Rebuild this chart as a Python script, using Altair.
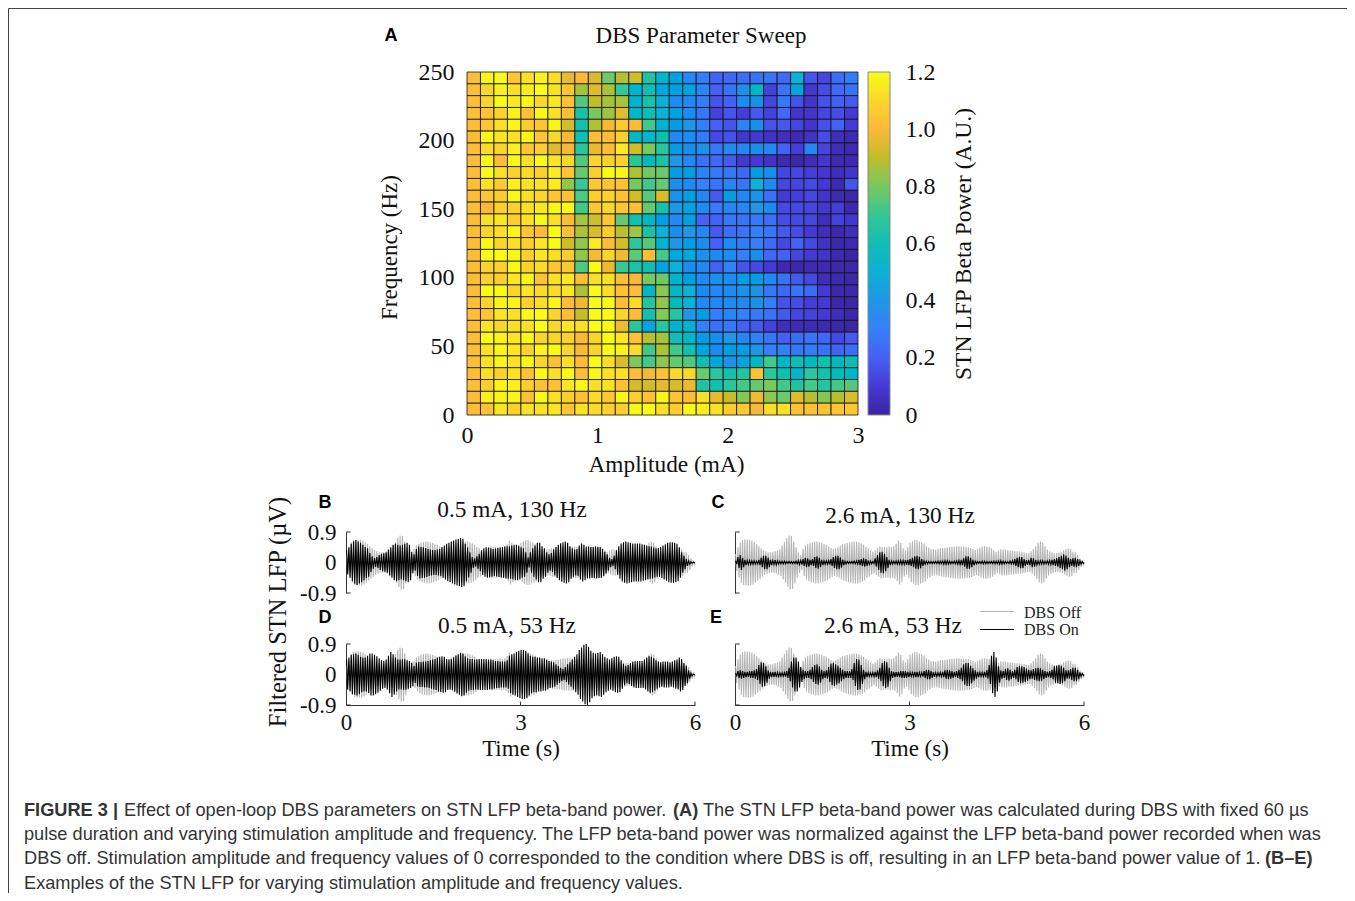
import altair as alt
import pandas as pd

# ---------- Panel A: normalised beta power, top row (250 Hz) first, amplitude 0 to 3 mA ----------
row_01 = [1.02,1.18,1.2,1.04,1.13,1.17,1.12,.96,1.0,.94,.78,.88,.92,.66,.52,.44,.33,.29,.21,.22,.23,.25,.26,.23,.5,.17,.13,.24,.29]
row_02 = [1.02,1.1,1.17,1.12,1.16,1.2,1.13,1.04,.86,.95,.87,.7,.53,.6,.47,.44,.45,.32,.2,.25,.38,.55,.12,.25,.46,.09,.15,.22,.26]
row_03 = [1.02,1.09,1.2,1.15,1.18,1.1,1.15,1.03,.74,.9,.86,.87,.53,.65,.5,.35,.33,.29,.17,.2,.34,.37,.13,.27,.16,.08,.16,.2,.18]
row_04 = [1.02,1.03,1.09,1.17,1.03,1.19,1.12,1.02,.65,.8,.85,.95,.55,.6,.5,.44,.35,.27,.12,.17,.11,.18,.12,.22,.08,.08,.13,.15,.1]
row_05 = [1.02,1.04,1.12,1.18,1.07,1.04,1.18,.93,.64,.87,.98,1.05,1.01,.72,.52,.42,.4,.3,.2,.17,.31,.37,.16,.18,.13,.08,.16,.2,.1]
row_06 = [1.02,1.19,1.14,1.13,1.19,1.04,1.1,.99,.62,1.02,1.02,1.07,.55,.53,.6,.34,.35,.28,.14,.16,.09,.1,.07,.06,.04,.07,.15,.05,.03]
row_07 = [1.02,1.11,1.09,1.17,1.04,1.06,.95,.98,.68,.96,1.02,1.15,.92,.8,.68,.42,.36,.38,.27,.33,.33,.36,.33,.2,.11,.32,.13,.05,.03]
row_08 = [1.02,1.19,1.02,1.19,1.13,1.19,1.14,1.1,.74,1.09,1.08,1.08,.68,.58,.66,.4,.33,.25,.22,.18,.1,.1,.07,.03,.02,.05,.09,.03,.03]
row_09 = [1.02,1.2,1.12,1.08,1.11,1.08,1.16,1.04,.77,1.07,1.2,1.19,.87,.79,.78,.42,.43,.32,.28,.27,.22,.42,.36,.13,.13,.11,.09,.05,.08]
row_10 = [1.02,1.12,1.07,1.17,1.13,1.13,1.16,.84,.7,1.05,1.04,1.03,.8,.72,.77,.36,.35,.3,.26,.32,.27,.5,.34,.13,.13,.14,.1,.03,.17]
row_11 = [1.02,1.04,1.07,1.19,1.12,1.09,1.04,1.03,.73,1.07,1.08,1.03,.92,.75,.94,.38,.43,.33,.18,.42,.33,.38,.24,.1,.11,.13,.08,.03,.02]
row_12 = [1.02,1.0,1.08,1.08,1.13,1.14,1.19,1.19,.72,1.05,1.1,1.04,1.03,.77,.64,.4,.45,.34,.28,.33,.32,.4,.35,.14,.14,.13,.09,.11,.03]
row_13 = [1.02,1.12,1.14,1.07,1.13,1.19,1.12,1.02,.86,.92,1.05,.77,.63,.55,.43,.33,.44,.2,.21,.27,.26,.28,.24,.15,.14,.13,.05,.12,.09]
row_14 = [1.02,1.09,1.12,1.18,1.04,1.01,1.2,1.02,.87,.94,1.07,.89,.85,.65,.5,.36,.4,.33,.18,.24,.26,.3,.27,.18,.15,.1,.05,.02,.05]
row_15 = [1.02,1.19,1.09,1.12,1.07,1.14,1.2,.92,.83,1.15,1.01,.93,.69,.75,.53,.4,.42,.36,.2,.34,.28,.3,.23,.14,.2,.14,.07,.02,.03]
row_16 = [1.02,1.2,1.2,1.19,1.08,1.14,1.12,1.06,.83,.99,1.09,.98,.76,1.02,.72,.47,.47,.38,.34,.34,.3,.36,.22,.2,.13,.1,.08,.03,.01]
row_17 = [1.02,1.08,1.08,1.19,1.09,1.11,1.04,1.05,.73,1.2,.97,.7,.65,.6,.45,.5,.35,.33,.2,.3,.17,.14,.1,.03,.02,.03,.03,.02,.02]
row_18 = [1.02,1.08,1.07,1.14,1.18,1.03,1.12,1.15,1.02,1.12,1.13,1.02,.99,.8,.78,.52,.43,.34,.38,.35,.43,.43,.33,.25,.18,.14,.05,.03,.02]
row_19 = [1.02,1.2,1.2,1.09,1.14,1.11,1.11,1.14,.87,1.2,1.12,1.03,1.02,.55,.83,.55,.5,.35,.33,.35,.38,.39,.27,.22,.26,.23,.1,.02,.02]
row_20 = [1.02,1.09,1.18,1.18,1.08,1.12,1.19,1.02,.97,1.2,1.2,1.02,1.11,.67,.84,.58,.5,.33,.33,.35,.33,.38,.3,.16,.15,.11,.1,.02,.01]
row_21 = [1.02,1.04,1.14,1.13,1.19,1.2,1.09,1.02,.9,1.2,1.2,1.09,1.02,.63,.82,.67,.4,.42,.3,.32,.3,.28,.26,.18,.13,.12,.1,.05,.02]
row_22 = [1.02,1.14,1.1,1.12,1.13,1.2,1.1,1.14,1.12,1.2,1.2,.97,.68,.45,.68,.52,.52,.3,.25,.27,.2,.18,.12,.05,.04,.04,.03,.02,.01]
row_23 = [1.02,1.2,1.18,1.14,1.19,1.09,1.09,1.08,.99,1.09,1.2,1.14,1.03,.88,.86,.6,.55,.42,.37,.4,.32,.31,.27,.2,.24,.26,.22,.14,.18]
row_24 = [1.02,1.13,1.19,1.14,1.08,1.18,1.2,1.1,.99,1.09,1.2,1.17,1.11,.72,.87,.72,.63,.45,.35,.42,.42,.4,.3,.3,.27,.29,.25,.21,.24]
row_25 = [1.02,1.13,1.19,1.13,1.19,1.09,1.03,1.12,1.01,1.2,1.12,.94,.81,.72,.83,.77,.74,.6,.48,.38,.46,.56,.72,.54,.6,.58,.63,.58,.6]
row_26 = [1.02,1.12,1.08,1.13,1.03,1.19,1.12,1.19,1.02,1.19,1.13,1.12,1.02,.98,1.03,1.1,1.1,.78,.68,.63,.67,1.03,.68,.62,.55,.68,.64,.58,.55]
row_27 = [1.02,1.07,1.18,1.17,1.07,1.03,1.03,1.14,1.19,1.12,1.13,1.03,.93,.92,.95,.93,.96,.66,.62,.68,.72,.77,.8,.72,.66,.72,.67,.72,.75]
row_28 = [1.02,1.17,1.18,1.18,1.03,1.19,1.12,1.07,1.03,1.11,1.05,1.19,1.07,1.03,1.18,1.03,1.02,1.12,.96,.9,.82,.98,.83,.78,.95,.88,.82,.88,.94]
row_29 = [1.02,1.03,1.14,1.08,1.13,1.13,1.14,1.05,1.13,1.11,1.08,1.07,1.19,1.2,1.12,1.07,1.19,1.16,1.13,1.06,1.06,.99,1.12,1.13,1.03,1.03,1.03,1.04,1.05]
power_rows = [row_01,row_02,row_03,row_04,row_05,row_06,row_07,row_08,row_09,row_10,row_11,row_12,row_13,row_14,row_15,
              row_16,row_17,row_18,row_19,row_20,row_21,row_22,row_23,row_24,row_25,row_26,row_27,row_28,row_29]

# ---------- Panels B-E: peak height of each beta cycle (one value per 0.04 s) ----------
env_off = [.25,.45,.6,.66,.68,.68,.67,.65,.6,.54,.48,.42,.37,.33,.3,.3,.31,.33,.36,.4,.5,.6,.72,.8,.78,.62,.45,.3,.22,.4,
           .5,.55,.58,.6,.62,.62,.6,.58,.55,.52,.47,.43,.4,.42,.45,.5,.54,.56,.58,.6,.62,.62,.62,.6,.57,.52,.46,.42,.36,.32,
           .36,.42,.47,.46,.45,.45,.47,.46,.48,.55,.65,.58,.42,.36,.45,.58,.63,.66,.66,.62,.6,.56,.48,.44,.4,.39,.38,.4,.42,.43,
           .44,.44,.46,.47,.47,.48,.48,.47,.47,.46,.45,.43,.4,.37,.4,.44,.47,.48,.47,.46,.42,.36,.32,.35,.38,.38,.38,.36,.36,.35,
           .34,.33,.33,.32,.3,.28,.28,.33,.4,.48,.58,.62,.58,.48,.38,.33,.3,.28,.28,.3,.32,.36,.4,.42,.4,.32,.3,.22,.12,.06]
env_b = [.35,.45,.55,.63,.66,.62,.58,.52,.46,.42,.28,.18,.13,.16,.22,.26,.27,.3,.38,.45,.52,.55,.52,.5,.52,.55,.58,.52,.32,.24,
         .4,.47,.46,.45,.43,.4,.38,.37,.37,.38,.4,.46,.5,.55,.58,.62,.65,.68,.7,.72,.7,.55,.44,.3,.16,.12,.18,.26,.36,.42,
         .45,.44,.42,.4,.41,.43,.44,.45,.47,.48,.48,.5,.52,.52,.5,.45,.42,.3,.15,.3,.42,.5,.58,.58,.48,.42,.3,.24,.28,.38,
         .46,.52,.57,.6,.62,.58,.48,.42,.38,.4,.5,.56,.52,.47,.47,.46,.46,.47,.46,.45,.4,.32,.24,.14,.1,.2,.36,.48,.56,.6,
         .62,.6,.58,.56,.56,.56,.56,.54,.52,.5,.48,.47,.44,.42,.43,.46,.5,.54,.58,.6,.6,.58,.55,.45,.3,.2,.1,.05,.02,.01]
env_c = [.05,.16,.22,.14,.08,.06,.06,.05,.05,.04,.08,.14,.2,.2,.14,.08,.06,.07,.05,.04,.04,.04,.03,.03,.03,.03,.04,.06,.06,.1,
         .14,.12,.08,.1,.16,.18,.14,.08,.05,.05,.06,.1,.16,.2,.2,.15,.08,.04,.03,.03,.03,.04,.05,.08,.1,.12,.1,.06,.04,.03,
         .12,.22,.3,.32,.26,.16,.08,.05,.04,.05,.05,.06,.06,.07,.08,.1,.14,.18,.2,.17,.1,.05,.04,.03,.03,.03,.03,.04,.04,.05,
         .05,.05,.04,.03,.04,.05,.06,.08,.12,.18,.18,.14,.08,.04,.03,.03,.04,.04,.03,.03,.03,.04,.04,.05,.05,.04,.03,.03,.04,.06,
         .1,.14,.17,.16,.1,.07,.08,.14,.12,.07,.05,.05,.05,.04,.05,.06,.08,.1,.12,.16,.2,.24,.2,.14,.1,.12,.14,.1,.05,.03]
env_d = [.45,.5,.58,.6,.62,.58,.52,.5,.5,.55,.62,.62,.58,.54,.48,.42,.4,.44,.55,.66,.6,.5,.44,.44,.45,.45,.42,.4,.35,.25,
         .35,.37,.37,.38,.38,.4,.42,.44,.46,.5,.52,.54,.52,.46,.44,.46,.5,.56,.6,.64,.62,.54,.48,.46,.46,.44,.45,.46,.46,.46,
         .46,.44,.44,.42,.4,.4,.38,.38,.38,.42,.55,.6,.62,.66,.7,.72,.72,.7,.62,.55,.52,.52,.5,.5,.48,.48,.44,.4,.38,.36,
         .3,.25,.2,.16,.22,.3,.36,.44,.52,.6,.72,.8,.88,.9,.82,.7,.64,.62,.64,.66,.6,.52,.48,.44,.48,.52,.54,.52,.42,.32,
         .26,.28,.34,.38,.4,.4,.4,.4,.44,.5,.54,.52,.48,.42,.38,.36,.38,.38,.38,.36,.38,.42,.44,.5,.46,.34,.26,.12,.04,.01]
env_e = [.04,.1,.12,.1,.08,.08,.1,.1,.12,.16,.28,.36,.34,.24,.12,.08,.07,.08,.06,.05,.05,.06,.1,.2,.38,.5,.5,.38,.22,.14,
         .1,.1,.14,.22,.28,.3,.24,.14,.1,.12,.22,.32,.34,.3,.26,.2,.14,.1,.1,.1,.16,.34,.46,.44,.28,.14,.08,.06,.05,.06,
         .08,.12,.2,.34,.4,.36,.2,.1,.08,.07,.08,.1,.1,.1,.08,.06,.06,.08,.08,.06,.06,.1,.14,.14,.1,.07,.06,.05,.06,.08,
         .12,.14,.12,.1,.08,.1,.14,.2,.3,.34,.34,.26,.18,.12,.08,.06,.06,.08,.12,.28,.55,.66,.5,.24,.12,.1,.16,.18,.14,.1,
         .14,.22,.26,.24,.22,.18,.14,.12,.16,.18,.2,.18,.14,.1,.08,.1,.14,.24,.26,.28,.26,.2,.12,.12,.16,.2,.2,.14,.06,.03]

SERIES = ["DBS Off", "DBS On"]
SERIES_COLORS = ["#b4b4b4", "#000000"]
CYCLE = 0.04
COLOR_STOPS = [0, .1, .2, .3, .4, .5, .6, .7, .8, .9, 1.0, 1.1, 1.2]
COLOR_RANGE = ["#3A24A0", "#4539D6", "#4560F5", "#3480FA", "#1F96E6", "#0DB0D6", "#10BDB5",
               "#35C795", "#78C860", "#C2BD28", "#FDB83A", "#F8D82A", "#F9FB15"]

SERIF = "Liberation Serif"
SANS = "Liberation Sans"
W, H = 1339, 885  # drawing size; page origin is (8, 8)
INK = "#333333"
CAP = 18.2


def px(v):
    return v - 8


def txt(s, x, y, size, font=SERIF, align="center", baseline="middle", angle=0, weight="normal", color="#111111"):
    return alt.Chart().mark_text(text=s, font=font, fontSize=size, align=align, baseline=baseline,
                                 angle=angle, fontWeight=weight, color=color).encode(
        x=alt.value(px(x)), y=alt.value(px(y)))


# ---------- Heat map ----------
n = len(power_rows)
cells = pd.DataFrame([
    {"a0": 3 * c / n, "a1": 3 * (c + 1) / n, "f1": 250 * (1 - r / n), "f0": 250 * (1 - (r + 1) / n), "p": v}
    for r, row in enumerate(power_rows) for c, v in enumerate(row)
])
hx = alt.Scale(domain=[0, 3], range=[px(467), px(858)], nice=False, zero=False)
hy = alt.Scale(domain=[0, 250], range=[px(415), px(72)], nice=False, zero=False)
heat = alt.Chart(cells).mark_rect(stroke="#111111", strokeWidth=0.8).encode(
    x=alt.X("a0:Q", scale=hx, axis=alt.Axis(
        orient="bottom", offset=px(415) - H, values=[0, 1, 2, 3], ticks=False, domain=False, grid=False,
        labelFont=SERIF, labelFontSize=24, labelColor="#111111", labelPadding=8, labelFlush=False, format="d",
        title="Amplitude (mA)", titleFont=SERIF, titleFontSize=23.3, titleFontWeight="normal",
        titleColor="#111111", titlePadding=6, titleX=px(666))),
    x2="a1:Q",
    y=alt.Y("f0:Q", scale=hy, axis=alt.Axis(
        orient="left", offset=-px(467), values=[0, 50, 100, 150, 200, 250], ticks=False, domain=False, grid=False,
        labelFont=SERIF, labelFontSize=24, labelColor="#111111", labelPadding=13, labelFlush=False,
        title="Frequency (Hz)", titleFont=SERIF, titleFontSize=23, titleFontWeight="normal",
        titleColor="#111111", titlePadding=17, titleY=px(247))),
    y2="f1:Q",
    color=alt.Color("p:Q", legend=None, scale=alt.Scale(domain=COLOR_STOPS, range=COLOR_RANGE)),
)

# ---------- Colour bar ----------
ramp = alt.LinearGradient(gradient="linear", x1=0, x2=0, y1=1, y2=0,
                          stops=[alt.GradientStop(offset=s / 1.2, color=c) for s, c in zip(COLOR_STOPS, COLOR_RANGE)])
cbar = alt.Chart().mark_rect(color=ramp, stroke="#888888", strokeWidth=1).encode(
    x=alt.value(px(868)), x2=alt.value(px(890)),
    y=alt.Y(datum=0, scale=alt.Scale(domain=[0, 1.2], range=[px(415), px(72)], nice=False, zero=False),
            type="quantitative",
            axis=alt.Axis(orient="right", offset=px(890) - W, values=[0, .2, .4, .6, .8, 1.0, 1.2],
                          ticks=False, domain=False, grid=False,
                          labelExpr="datum.value === 0 ? '0' : format(datum.value, '.1f')",
                          labelFont=SERIF, labelFontSize=24, labelColor="#111111", labelPadding=15,
                          labelFlush=False, title="STN LFP Beta Power (A.U.)", titleAngle=270,
                          titleFont=SERIF, titleFontSize=23.5, titleFontWeight="normal",
                          titleColor="#111111", titlePadding=40)),
    y2=alt.Y2(datum=1.2),
)


# ---------- Traces ----------
def trace_table(on):
    out = []
    for name, env in zip(SERIES, [env_off, on]):
        for i, a in enumerate(env):
            out.append({"t": i * CYCLE + CYCLE * .25, "v": a, "s": name, "k": 2 * i})
            out.append({"t": i * CYCLE + CYCLE * .75, "v": -a, "s": name, "k": 2 * i + 1})
        out.append({"t": 6.0, "v": 0.0, "s": name, "k": 2 * len(env)})
    return pd.DataFrame(out)


def panel(on, left, right, top, bottom, show_labels, show_x):
    sx = alt.Scale(domain=[0, 6], range=[px(left), px(right)], nice=False, zero=False)
    sy = alt.Scale(domain=[-0.9, 0.9], range=[px(bottom), px(top)], nice=False, zero=False)
    xaxis = None
    if show_x:
        xaxis = alt.Axis(orient="bottom", offset=px(bottom) - H, values=[0, 3, 6], ticks=False, grid=False,
                         domainColor="#333333", domainWidth=1, labelFont=SERIF, labelFontSize=23,
                         labelColor="#111111", labelPadding=6, labelFlush=False, format="d",
                         title="Time (s)", titleFont=SERIF, titleFontSize=23, titleFontWeight="normal",
                         titleColor="#111111", titlePadding=3)
    yaxis = alt.Axis(orient="left", offset=-px(left), values=[-0.9, 0, 0.9], ticks=False, grid=False,
                     domainColor="#333333", domainWidth=1, title=None, labels=show_labels,
                     labelExpr="datum.value === 0 ? '0' : (datum.value > 0 ? '0.9' : '-0.9')",
                     labelFont=SERIF, labelFontSize=23, labelColor="#111111", labelPadding=10, labelFlush=False)
    lines = alt.Chart(trace_table(on)).mark_line(strokeWidth=1.1).encode(
        x=alt.X("t:Q", scale=sx, axis=xaxis),
        y=alt.Y("v:Q", scale=sy, axis=yaxis),
        order="k:Q",
        color=alt.Color("s:N", sort=SERIES, legend=None,
                        scale=alt.Scale(domain=SERIES, range=SERIES_COLORS)),
    )
    # inward-pointing bracket ends of the axes
    marks = [{"t0": 0, "t1": .08, "v0": .9, "v1": .9}, {"t0": 0, "t1": .08, "v0": -.9, "v1": -.9}]
    if show_x:
        marks += [{"t0": 3, "t1": 3, "v0": -.9, "v1": -.8}, {"t0": 6, "t1": 6, "v0": -.9, "v1": -.8}]
    ends = alt.Chart(pd.DataFrame(marks)).mark_rule(color="#333333", strokeWidth=1).encode(
        x=alt.X("t0:Q", scale=sx, axis=None), x2="t1:Q",
        y=alt.Y("v0:Q", scale=sy, axis=None), y2="v1:Q",
    )
    return [lines, ends]


panels = (panel(env_b, 346, 695, 532, 593, True, False)
          + panel(env_c, 735, 1084, 532, 593, False, False)
          + panel(env_d, 346, 695, 644, 705, True, True)
          + panel(env_e, 735, 1084, 644, 705, False, True))

# ---------- Line key ----------
key = [
    alt.Chart().mark_rule(color=SERIES_COLORS[0], strokeWidth=1.2).encode(
        x=alt.value(px(980)), x2=alt.value(px(1014)), y=alt.value(px(611.5))),
    alt.Chart().mark_rule(color=SERIES_COLORS[1], strokeWidth=1.2).encode(
        x=alt.value(px(980)), x2=alt.value(px(1014)), y=alt.value(px(629.5))),
    txt(SERIES[0], 1024, 613, 16, align="left", color="#222222"),
    txt(SERIES[1], 1024, 630, 16, align="left", color="#222222"),
]

# ---------- Frame and texts ----------
frame = [
    alt.Chart().mark_rule(color="#444444", strokeWidth=1).encode(
        x=alt.value(0.5), x2=alt.value(W), y=alt.value(0.5)),
    alt.Chart().mark_rule(color="#444444", strokeWidth=1).encode(
        x=alt.value(0.5), y=alt.value(0.5), y2=alt.value(H)),
]
labels = [
    txt("DBS Parameter Sweep", 701, 36, 23),
    txt("A", 391, 36, 18, SANS, weight="bold", color="#000000"),
    txt("B", 325, 503, 18, SANS, weight="bold", color="#000000"),
    txt("C", 718, 503, 18, SANS, weight="bold", color="#000000"),
    txt("D", 325, 618, 18, SANS, weight="bold", color="#000000"),
    txt("E", 716, 618, 18, SANS, weight="bold", color="#000000"),
    txt("0.5 mA, 130 Hz", 512, 510, 23.3),
    txt("2.6 mA, 130 Hz", 900, 516, 23.3),
    txt("0.5 mA, 53 Hz", 507, 626, 23.3),
    txt("2.6 mA, 53 Hz", 893, 626, 23.3),
    txt("Filtered STN LFP (\u00b5V)", 279, 612, 24.5, angle=270),
    txt("FIGURE 3 |", 24, 816, CAP, SANS, "left", "alphabetic", weight="bold", color=INK),
    txt("Effect of open-loop DBS parameters on STN LFP beta-band power.", 124, 816, CAP, SANS, "left", "alphabetic", color=INK),
    txt("(A)", 673, 816, CAP, SANS, "left", "alphabetic", weight="bold", color=INK),
    txt("The STN LFP beta-band power was calculated during DBS with fixed 60 \u00b5s", 703, 816, CAP, SANS, "left", "alphabetic", color=INK),
    txt("pulse duration and varying stimulation amplitude and frequency. The LFP beta-band power was normalized against the LFP beta-band power recorded when was",
        24, 840, CAP, SANS, "left", "alphabetic", color=INK),
    txt("DBS off. Stimulation amplitude and frequency values of 0 corresponded to the condition where DBS is off, resulting in an LFP beta-band power value of 1.",
        24, 864, CAP, SANS, "left", "alphabetic", color=INK),
    txt("(B\u2013E)", 1265, 864, CAP, SANS, "left", "alphabetic", weight="bold", color=INK),
    txt("Examples of the STN LFP for varying stimulation amplitude and frequency values.", 24, 889, CAP, SANS, "left", "alphabetic", color=INK),
]

chart = alt.layer(*frame, heat, cbar, *panels, *key, *labels).resolve_scale(
    x="independent", y="independent", color="independent"
).properties(
    width=W, height=H, padding=0, autosize=alt.AutoSizeParams(type="none"),
).configure_view(stroke=None)

chart.save("out.html", embed_options={"renderer": "svg", "actions": False})
